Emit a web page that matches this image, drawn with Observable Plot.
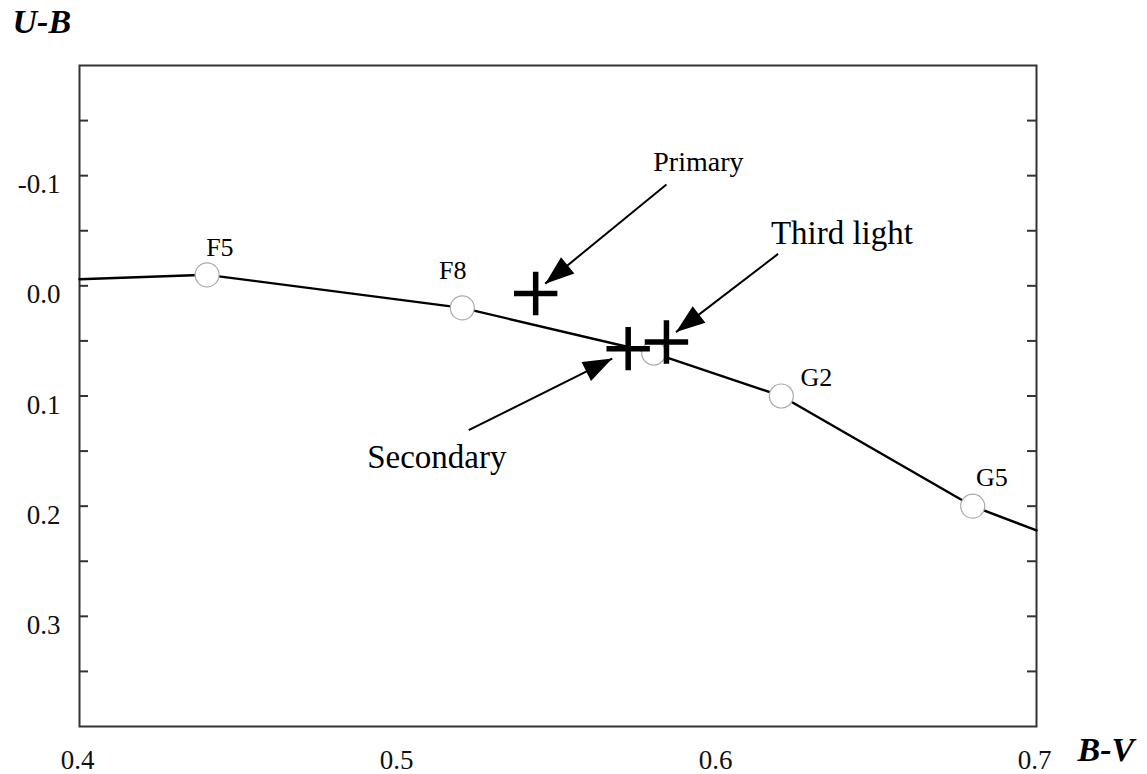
<!DOCTYPE html>
<html><head><meta charset="utf-8">
<script src="https://cdn.jsdelivr.net/npm/d3@7"></script>
<script src="https://cdn.jsdelivr.net/npm/@observablehq/plot@0.6"></script>
<style>body{margin:0;background:#fff} #chart svg{display:block}</style>
</head><body><div id="chart"></div>
<script>
// Main-sequence curve (B-V, U-B)
const curveBV = [0.40, 0.44, 0.52, 0.58, 0.62, 0.68, 0.70];
const curveUB = [-0.006, -0.010, 0.020, 0.061, 0.100, 0.200, 0.222];
// Standard spectral types on the curve
const starBV = [0.44, 0.52, 0.58, 0.62, 0.68];
const starUB = [-0.010, 0.020, 0.061, 0.100, 0.200];
const starType = ["F5", "F8", "", "G2", "G5"];
const typeLabelBV = [0.444, 0.517, 0.58, 0.631, 0.686];
const typeLabelUB = [-0.035, -0.014, 0.061, 0.083, 0.174];
// Components
const compName = ["Primary", "Secondary", "Third light"];
const compBV = [0.543, 0.572, 0.584];
const compUB = [0.007, 0.057, 0.051];
const compLabelBV = [0.594, 0.512, 0.639];
const compLabelUB = [-0.112, 0.156, -0.048];
const compLabelSize = [28, 33, 33];
const arrowFromBV = [0.584, 0.522, 0.619];
const arrowFromUB = [-0.092, 0.131, -0.029];
const arrowToBV = [0.546, 0.567, 0.587];
const arrowToUB = [-0.002, 0.066, 0.042];
// Axes
const xTicks = [0.4, 0.5, 0.6, 0.7];
const yLabelTicks = [-0.1, 0.0, 0.1, 0.2, 0.3];
const yMinorTicks = [-0.15, -0.1, -0.05, 0, 0.05, 0.1, 0.15, 0.2, 0.25, 0.3, 0.35];

const curve = curveBV.map((x, i) => ({x, y: curveUB[i]}));
const stars = starBV.map((x, i) => ({x, y: starUB[i], label: starType[i], lx: typeLabelBV[i], ly: typeLabelUB[i]}));
const comps = compName.map((name, i) => ({
  name, x: compBV[i], y: compUB[i], lx: compLabelBV[i], ly: compLabelUB[i], size: compLabelSize[i],
  x1: arrowFromBV[i], y1: arrowFromUB[i], x2: arrowToBV[i], y2: arrowToUB[i]
}));

const W = 1147, H = 774;
const M = {left: 79, right: 111, top: 65, bottom: 48};
const frameW = W - M.left - M.right;
const serif = "'Liberation Serif', 'Times New Roman', serif";

const arrowHead = {
  draw(ctx) {
    ctx.moveTo(0, 0);
    ctx.lineTo(10.5, 29);
    ctx.lineTo(-10.5, 29);
    ctx.closePath();
  }
};

function makePlot(heads) {
  return Plot.plot({
    width: W, height: H,
    marginLeft: M.left, marginRight: M.right, marginTop: M.top, marginBottom: M.bottom,
    style: {fontFamily: serif, background: "#fff", color: "#111"},
    x: {domain: [0.4, 0.7]},
    y: {domain: [-0.2, 0.4], reverse: true},
    marks: [
      Plot.tickY(yMinorTicks, {y: d => d, insetRight: frameW - 9, stroke: "#333", strokeWidth: 2}),
      Plot.tickY(yMinorTicks, {y: d => d, insetLeft: frameW - 9, stroke: "#333", strokeWidth: 2}),
      Plot.axisY({ticks: yLabelTicks, tickSize: 0, tickPadding: 19, dy: 9, fontSize: 27,
        tickFormat: d => d.toFixed(1), label: null}),
      Plot.axisX({ticks: xTicks, tickSize: 0, tickPadding: 23, dx: -2, fontSize: 27,
        tickFormat: d => d.toFixed(1), label: null}),
      Plot.frame({stroke: "#333", strokeWidth: 2}),
      Plot.line(curve, {x: "x", y: "y", stroke: "#000", strokeWidth: 2.4}),
      Plot.dot(stars, {x: "x", y: "y", r: 12, fill: "#fff", stroke: "#aaa", strokeWidth: 1.2}),
      Plot.text(stars.filter(d => d.label), {x: "lx", y: "ly", text: "label", fontSize: 26, fill: "#000"}),
      Plot.link(comps, {x1: "x1", y1: "y1", x2: "x2", y2: "y2", stroke: "#000", strokeWidth: 2}),
      Plot.dot(heads, {x: "x", y: "y", rotate: "angle", symbol: arrowHead, fill: "#000", stroke: "none"}),
      Plot.dot(comps, {x: "x", y: "y", symbol: "plus", r: 14, stroke: "#000", strokeWidth: 5.5}),
      ...comps.map(c => Plot.text([c], {x: "lx", y: "ly", text: "name", fontSize: c.size, fill: "#000"})),
      Plot.text(["U-B"], {frameAnchor: "top-left", textAnchor: "start", lineAnchor: "middle",
        dx: -67, dy: -43, fontSize: 34, fontWeight: "bold", fontStyle: "italic", fill: "#000"}),
      Plot.text(["B-V"], {frameAnchor: "bottom-right", textAnchor: "start", lineAnchor: "middle",
        dx: 41, dy: 24, fontSize: 34, fontWeight: "bold", fontStyle: "italic", fill: "#000"})
    ]
  });
}

const first = makePlot([]);
const sx = first.scale("x"), sy = first.scale("y");
const xs = d3.scaleLinear(sx.domain, sx.range);
const ys = d3.scaleLinear(sy.domain, sy.range);
const heads = comps.map(c => {
  const dx = xs(c.x2) - xs(c.x1), dy = ys(c.y2) - ys(c.y1);
  return {x: c.x2, y: c.y2, angle: Math.atan2(dx, -dy) * 180 / Math.PI};
});
document.getElementById("chart").append(makePlot(heads));
</script>
</body></html>
